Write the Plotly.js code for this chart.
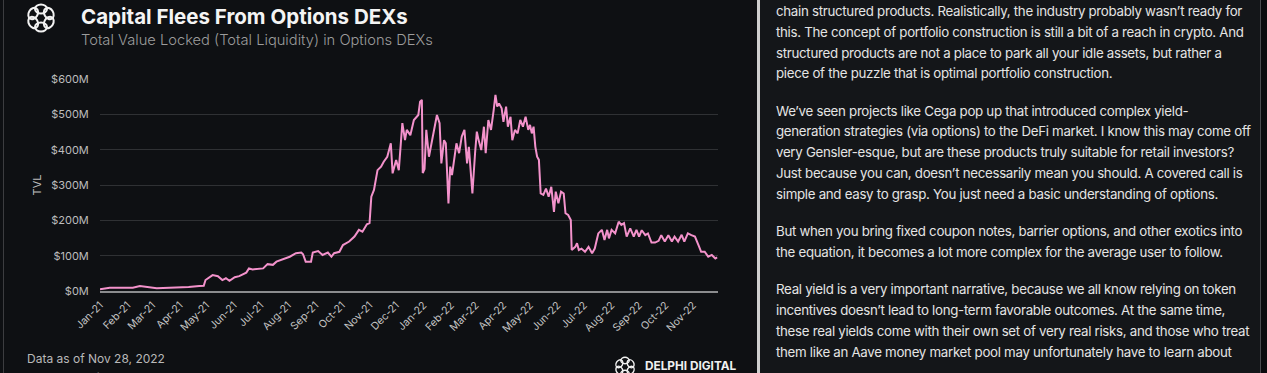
<!DOCTYPE html>
<html>
<head>
<meta charset="utf-8">
<script src="https://cdn.plot.ly/plotly-3.0.1.min.js"></script>
<style>
  html, body { margin:0; padding:0; width:1267px; height:373px; overflow:hidden; background:#0d0f12; }
  #left { position:absolute; left:0; top:0; width:757px; height:373px; background:#0e1013; }
  #edge { position:absolute; left:3px; top:0; width:1px; height:373px; background:#3c3d40; }
  #sep { position:absolute; left:757px; top:0; width:3px; height:373px; background:#cfcfcf; }
  #right { position:absolute; left:760px; top:0; width:500px; height:373px; background:#141619; overflow:hidden; }
  #rborder { position:absolute; left:1260px; top:0; width:1px; height:373px; background:#4a4b4e; }
  #rout { position:absolute; left:1261px; top:0; width:6px; height:373px; background:#0b0c0e; }
  #chart { position:absolute; left:0; top:0; width:757px; height:373px; }
  .txt { position:absolute; left:16px; top:1px; width:484px; font-family:Inter, "Noto Sans", sans-serif; font-size:13.3px; letter-spacing:-0.3px; line-height:20.8px; color:#e4e4e4; }
  .txt p { margin:0 0 16.5px 0; white-space:nowrap; }
  svg.logo { position:absolute; }
</style>
</head>
<body>
<div id="left"></div>
<div id="edge"></div>
<div id="chart"></div>
<svg class="logo" style="left:24px;top:1px" width="34" height="34" viewBox="-17 -17 34 34">
  <g fill="none" stroke="#f2f2f2" stroke-width="2">
    <ellipse cx="0" cy="-9" rx="6" ry="4.5" transform="rotate(0)"/>
    <ellipse cx="0" cy="-9" rx="6" ry="4.5" transform="rotate(60)"/>
    <ellipse cx="0" cy="-9" rx="6" ry="4.5" transform="rotate(120)"/>
    <ellipse cx="0" cy="-9" rx="6" ry="4.5" transform="rotate(180)"/>
    <ellipse cx="0" cy="-9" rx="6" ry="4.5" transform="rotate(240)"/>
    <ellipse cx="0" cy="-9" rx="6" ry="4.5" transform="rotate(300)"/>
  </g>
</svg>
<svg class="logo" style="left:613px;top:355px" width="24" height="24" viewBox="-12 -12 24 24">
  <g fill="none" stroke="#f2f2f2" stroke-width="1.4">
    <ellipse cx="0" cy="-6.5" rx="4.2" ry="3.2" transform="rotate(0)"/>
    <ellipse cx="0" cy="-6.5" rx="4.2" ry="3.2" transform="rotate(60)"/>
    <ellipse cx="0" cy="-6.5" rx="4.2" ry="3.2" transform="rotate(120)"/>
    <ellipse cx="0" cy="-6.5" rx="4.2" ry="3.2" transform="rotate(180)"/>
    <ellipse cx="0" cy="-6.5" rx="4.2" ry="3.2" transform="rotate(240)"/>
    <ellipse cx="0" cy="-6.5" rx="4.2" ry="3.2" transform="rotate(300)"/>
  </g>
</svg>
<div id="sep"></div>
<div id="right">
  <div class="txt">
    <p>chain structured products. Realistically, the industry probably wasn’t ready for<br>this. The concept of portfolio construction is still a bit of a reach in crypto. And<br>structured products are not a place to park all your idle assets, but rather a<br>piece of the puzzle that is optimal portfolio construction.</p>
    <p>We’ve seen projects like Cega pop up that introduced complex yield-<br>generation strategies (via options) to the DeFi market. I know this may come off<br>very Gensler-esque, but are these products truly suitable for retail investors?<br>Just because you can, doesn’t necessarily mean you should. A covered call is<br>simple and easy to grasp. You just need a basic understanding of options.</p>
    <p>But when you bring fixed coupon notes, barrier options, and other exotics into<br>the equation, it becomes a lot more complex for the average user to follow.</p>
    <p>Real yield is a very important narrative, because we all know relying on token<br>incentives doesn’t lead to long-term favorable outcomes. At the same time,<br>these real yields come with their own set of very real risks, and those who treat<br>them like an Aave money market pool may unfortunately have to learn about</p>
  </div>
</div>
<div id="rborder"></div>
<div id="rout"></div>
<script>
// TVL of options DEXs, in $M
const dates = [
 "2021-01-01","2021-01-12","2021-02-07","2021-02-15","2021-03-06","2021-03-28","2021-04-11","2021-04-23","2021-04-28","2021-04-30",
 "2021-05-08","2021-05-14","2021-05-19","2021-05-23","2021-05-27","2021-06-02","2021-06-07","2021-06-15","2021-06-18","2021-06-22",
 "2021-07-04","2021-07-09","2021-07-15","2021-07-19","2021-07-26","2021-08-03","2021-08-10","2021-08-16","2021-08-18","2021-08-21",
 "2021-08-27","2021-08-29","2021-09-04","2021-09-09","2021-09-15","2021-09-19","2021-09-22","2021-09-28","2021-10-02","2021-10-09",
 "2021-10-15","2021-10-20","2021-10-24","2021-10-29","2021-11-01","2021-11-03","2021-11-06","2021-11-10","2021-11-14","2021-11-17",
 "2021-11-21","2021-11-25","2021-11-27","2021-12-01","2021-12-04","2021-12-08","2021-12-11","2021-12-13","2021-12-17","2021-12-21",
 "2021-12-26","2021-12-28","2021-12-30","2021-12-31","2022-01-02","2022-01-04","2022-01-07","2022-01-10","2022-01-13","2022-01-16",
 "2022-01-19","2022-01-21","2022-01-24","2022-01-26","2022-01-29","2022-01-31","2022-02-02","2022-02-07","2022-02-10","2022-02-13",
 "2022-02-16","2022-02-19","2022-02-21","2022-02-23","2022-02-25","2022-02-28","2022-03-02","2022-03-04","2022-03-07","2022-03-10",
 "2022-03-12","2022-03-15","2022-03-18","2022-03-21","2022-03-23","2022-03-25","2022-03-27","2022-03-30","2022-04-01","2022-04-04",
 "2022-04-06","2022-04-09","2022-04-11","2022-04-14","2022-04-17","2022-04-20","2022-04-23","2022-04-26","2022-04-29","2022-05-01",
 "2022-05-03","2022-05-05","2022-05-07","2022-05-09","2022-05-11","2022-05-13","2022-05-16","2022-05-19","2022-05-22","2022-05-25",
 "2022-05-28","2022-05-30","2022-06-02","2022-06-05","2022-06-08","2022-06-10","2022-06-13","2022-06-16","2022-06-17","2022-06-21",
 "2022-06-23","2022-06-25","2022-06-28","2022-07-02","2022-07-06","2022-07-10","2022-07-13","2022-07-17","2022-07-21","2022-07-24",
 "2022-07-27","2022-07-29","2022-08-01","2022-08-05","2022-08-09","2022-08-12","2022-08-15","2022-08-18","2022-08-22","2022-08-26",
 "2022-08-29","2022-09-01","2022-09-04","2022-09-08","2022-09-11","2022-09-15","2022-09-19","2022-09-23","2022-09-26","2022-09-30",
 "2022-10-04","2022-10-08","2022-10-11","2022-10-15","2022-10-19","2022-10-22","2022-10-26","2022-10-30","2022-11-03","2022-11-07",
 "2022-11-10","2022-11-14","2022-11-18","2022-11-22","2022-11-26","2022-11-28"
];
const tvl = [
 5,9,9,14,8,9,11,14,15,31,
 45,42,31,36,29,39,42,52,64,61,
 64,76,74,83,90,97,107,109,104,83,
 83,109,113,102,109,97,107,111,130,140,
 154,173,168,189,192,267,286,342,352,366,
 380,418,333,371,342,475,427,456,441,484,
 498,536,541,334,345,456,380,418,456,498,
 475,361,427,418,248,352,328,418,390,437,
 456,361,408,342,276,390,451,427,399,465,
 390,484,456,512,555,522,531,517,479,522,
 465,493,427,456,446,484,465,493,456,470,
 446,465,408,380,371,276,272,290,267,295,
 224,281,248,281,276,220,215,201,116,125,
 135,116,120,111,125,107,120,163,173,144,
 173,149,173,163,196,187,192,154,177,154,
 173,154,172,158,163,137,137,142,158,140,
 158,140,154,140,159,140,163,158,154,130,
 111,111,97,102,92,95
];
const yTicks = [0,100,200,300,400,500,600];
const yTickText = yTicks.map(v => "$" + v + "M");

const title = "Capital Flees From Options DEXs";
const subtitle = "Total Value Locked (Total Liquidity) in Options DEXs";
const noteDate = "Data as of Nov 28, 2022";
const noteSource = "Source: DeFi Llama";
const brand = "DELPHI DIGITAL";

// plot-area pixel geometry helpers (for annotation placement only)
const PL = 100, PR = 718, PT = 79, PB = 291;
const px = x => (x - PL) / (PR - PL);
const py = y => (PB - y) / (PB - PT);

const trace = {
  x: dates, y: tvl, type: "scatter", mode: "lines",
  line: { color: "#f392cb", width: 2 }, hoverinfo: "skip"
};

const layout = {
  width: 757, height: 373,
  margin: { l: PL, r: 757 - PR, t: PT, b: 373 - PB },
  paper_bgcolor: "rgba(0,0,0,0)", plot_bgcolor: "rgba(0,0,0,0)",
  showlegend: false,
  font: { family: "Inter, 'Noto Sans', sans-serif", color: "#bcbcbc" },
  xaxis: {
    type: "date", range: ["2021-01-01", "2022-11-29"],
    dtick: "M1", tick0: "2021-01-01", tickformat: "%b-%y", tickangle: -45,
    tickfont: { size: 10.5, color: "#c4c4c4" },
    showgrid: false, zeroline: false,
    showline: true, linecolor: "#8b8c8e", linewidth: 2,
    ticks: "outside", ticklen: 2, tickcolor: "rgba(0,0,0,0)"
  },
  yaxis: {
    range: [0, 600], tickvals: yTicks, ticktext: yTickText,
    tickfont: { size: 11, color: "#bdbdbd" },
    showgrid: true, gridcolor: "#2f3134", gridwidth: 1,
    zeroline: false, showline: false,
    ticks: "outside", ticklen: 8, tickcolor: "rgba(0,0,0,0)",
    title: { text: "TVL", font: { size: 11, color: "#bdbdbd" }, standoff: 6 }
  },
  annotations: [
    { text: "<b>" + title + "</b>", xref: "paper", yref: "paper", x: px(79), y: py(17),
      xanchor: "left", yanchor: "middle", showarrow: false,
      font: { size: 20.5, color: "#f4f4f4", family: "Inter, 'Noto Sans', sans-serif" } },
    { text: subtitle, xref: "paper", yref: "paper", x: px(79), y: py(40),
      xanchor: "left", yanchor: "middle", showarrow: false,
      font: { size: 14.7, color: "#9c9c9c", family: "Inter, 'Noto Sans', sans-serif", weight: 300 } },
    { text: noteDate, xref: "paper", yref: "paper", x: px(25), y: py(358),
      xanchor: "left", yanchor: "middle", showarrow: false,
      font: { size: 12, color: "#b9b9b9" } },
    { text: noteSource, xref: "paper", yref: "paper", x: px(25), y: py(377),
      xanchor: "left", yanchor: "middle", showarrow: false,
      font: { size: 12, color: "#b9b9b9" } },
    { text: "<b>" + brand + "</b>", xref: "paper", yref: "paper", x: px(643), y: py(366),
      xanchor: "left", yanchor: "middle", showarrow: false,
      font: { size: 11.8, color: "#f0f0f0", family: "Inter, 'Noto Sans', sans-serif" } }
  ]
};

Plotly.newPlot("chart", [trace], layout, { staticPlot: true, displayModeBar: false });
</script>
</body>
</html>
